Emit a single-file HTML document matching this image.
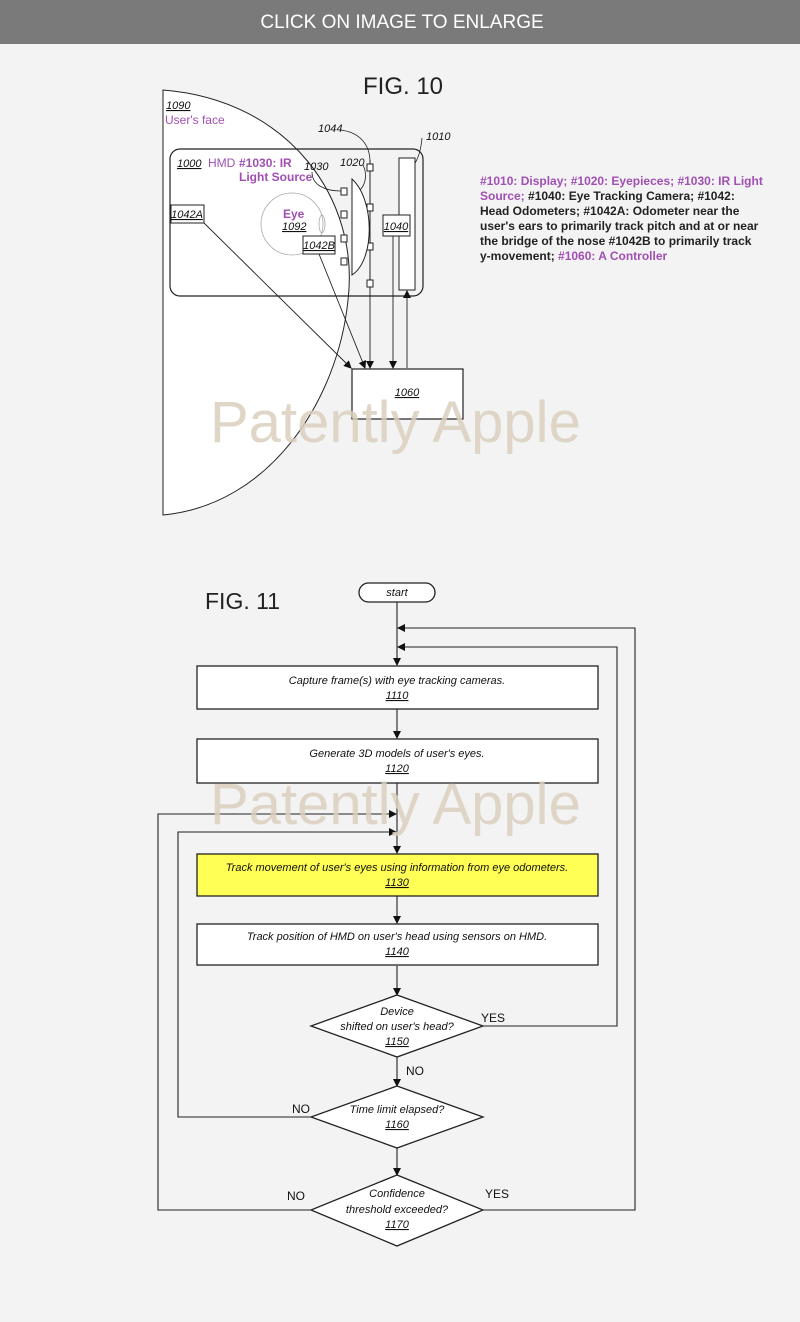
<!DOCTYPE html>
<html><head><meta charset="utf-8"><style>
html,body{margin:0;padding:0;background:#f3f3f3;}
svg{display:block;}
.it{font-family:"Liberation Sans",sans-serif;font-style:italic;font-size:11px;fill:#111;}
.lab{font-family:"Liberation Sans",sans-serif;font-size:12px;fill:#111;}
.pur{fill:#a14fb3;}
</style></head><body>
<svg width="800" height="1322" viewBox="0 0 800 1322" xmlns="http://www.w3.org/2000/svg">
<defs>
<marker id="a" markerWidth="8" markerHeight="8" refX="7" refY="4" orient="auto" markerUnits="userSpaceOnUse"><path d="M0,0 L8,4 L0,8 z" fill="#111"/></marker>
</defs>
<rect x="0" y="0" width="800" height="1322" fill="#f3f3f3"/>
<rect x="0" y="0" width="800" height="44" fill="#7a7a7a"/>
<text x="402" y="28" text-anchor="middle" font-family="Liberation Sans,sans-serif" font-size="19" fill="#fff">CLICK ON IMAGE TO ENLARGE</text>

<!-- FIG 10 -->
<text x="403" y="94" text-anchor="middle" font-family="Liberation Sans,sans-serif" font-size="24" fill="#222">FIG. 10</text>
<path d="M163,90 C290,100 360,200 348,300 C338,400 270,505 163,515 Z" fill="#fff" stroke="#222" stroke-width="1"/>
<text x="166" y="109" class="it" text-decoration="underline" font-size="10">1090</text>
<text x="165" y="124" font-family="Liberation Sans,sans-serif" font-size="12" class="pur">User's face</text>
<rect x="170" y="149" width="253" height="147" rx="10" fill="none" stroke="#222" stroke-width="1.2"/>
<text x="177" y="167" class="it" font-size="12" text-decoration="underline">1000</text>
<text x="208" y="167" font-family="Liberation Sans,sans-serif" font-size="12" class="pur">HMD</text>
<text x="239" y="167" font-family="Liberation Sans,sans-serif" font-size="12" font-weight="bold" class="pur">#1030: IR</text>
<text x="239" y="181" font-family="Liberation Sans,sans-serif" font-size="12" font-weight="bold" class="pur">Light Source</text>
<text x="304" y="170" class="it" font-size="10">1030</text>
<text x="340" y="166" class="it" font-size="10">1020</text>
<text x="318" y="132" class="it" font-size="10">1044</text>
<text x="426" y="140" class="it" font-size="10">1010</text>
<path d="M340,130 C360,132 370,145 370,162" fill="none" stroke="#222" stroke-width="0.8"/>
<path d="M422,138 C420,160 413,168 405,173" fill="none" stroke="#222" stroke-width="0.8"/>
<path d="M312,172 C312,185 325,191 341,191" fill="none" stroke="#222" stroke-width="0.8"/>
<path d="M363,165 C368,175 365,185 360,190" fill="none" stroke="#222" stroke-width="0.8"/>
<rect x="399" y="158" width="16" height="132" fill="#fff" stroke="#222"/>
<rect x="383" y="215" width="27" height="21" fill="#fff" stroke="#222"/>
<text x="396" y="230" text-anchor="middle" class="it" font-size="10" text-decoration="underline">1040</text>
<line x1="370" y1="160" x2="370" y2="290" stroke="#222"/>
<g fill="#fff" stroke="#222"><rect x="367" y="164" width="6" height="7"/><rect x="367" y="204" width="6" height="7"/><rect x="367" y="243" width="6" height="7"/><rect x="367" y="280" width="6" height="7"/>
<rect x="341" y="188" width="6" height="7"/><rect x="341" y="211" width="6" height="7"/><rect x="341" y="235" width="6" height="7"/><rect x="341" y="258" width="6" height="7"/></g>
<path d="M352,179 C375,200 375,260 352,275 Z" fill="#fff" stroke="#222"/>
<circle cx="292" cy="224" r="31" fill="none" stroke="#aaa" stroke-width="0.8"/>
<ellipse cx="322" cy="224" rx="3" ry="9" fill="none" stroke="#aaa" stroke-width="0.8"/>
<text x="283" y="218" font-family="Liberation Sans,sans-serif" font-size="12" font-weight="bold" class="pur">Eye</text>
<text x="282" y="230" class="it" font-size="10" text-decoration="underline">1092</text>
<rect x="171" y="205" width="33" height="18" fill="#fff" stroke="#222"/>
<text x="187" y="218" text-anchor="middle" class="it" font-size="9" text-decoration="underline">1042A</text>
<rect x="303" y="236" width="32" height="18" fill="#fff" stroke="#222"/>
<text x="319" y="249" text-anchor="middle" class="it" font-size="9" text-decoration="underline">1042B</text>
<g stroke="#222" stroke-width="0.9" fill="none" marker-end="url(#a)">
<line x1="204" y1="223" x2="351" y2="368"/>
<line x1="319" y1="254" x2="365" y2="368"/>
<line x1="370" y1="290" x2="370" y2="368"/>
<line x1="393" y1="236" x2="393" y2="368"/>
<line x1="407" y1="368" x2="407" y2="291"/>
</g>
<rect x="352" y="369" width="111" height="50" fill="#fff" stroke="#222" stroke-width="1.2"/>
<text x="407" y="396" text-anchor="middle" class="it" font-size="10" text-decoration="underline">1060</text>
<g font-family="Liberation Sans,sans-serif" font-size="12" font-weight="bold" fill="#222">
<text x="480" y="185"><tspan class="pur">#1010: Display; #1020: Eyepieces; #1030: IR Light</tspan></text>
<text x="480" y="200"><tspan class="pur">Source;</tspan> #1040: Eye Tracking Camera; #1042:</text>
<text x="480" y="215">Head Odometers; #1042A: Odometer near the</text>
<text x="480" y="230">user's ears to primarily track pitch and at or near</text>
<text x="480" y="245">the bridge of the nose #1042B to primarily track</text>
<text x="480" y="260">y-movement; <tspan class="pur">#1060: A Controller</tspan></text>
</g>
<text x="210" y="442" font-family="Liberation Sans,sans-serif" font-size="58" fill="#d9cfbd" fill-opacity="0.85">Patently Apple</text>

<!-- FIG 11 -->
<text x="205" y="609" font-family="Liberation Sans,sans-serif" font-size="23" fill="#222">FIG. 11</text>
<rect x="359" y="583" width="76" height="19" rx="9.5" fill="#fff" stroke="#222" stroke-width="1.3"/>
<text x="397" y="596" text-anchor="middle" class="it" font-size="10">start</text>
<g stroke="#222" stroke-width="1.1" fill="none">
<line x1="397" y1="602" x2="397" y2="665" marker-end="url(#a)"/>
<line x1="397" y1="709" x2="397" y2="738" marker-end="url(#a)"/>
<line x1="397" y1="783" x2="397" y2="853" marker-end="url(#a)"/>
<line x1="397" y1="896" x2="397" y2="923" marker-end="url(#a)"/>
<line x1="397" y1="966" x2="397" y2="995" marker-end="url(#a)"/>
<line x1="397" y1="1057" x2="397" y2="1086" marker-end="url(#a)"/>
<line x1="397" y1="1148" x2="397" y2="1175" marker-end="url(#a)"/>
<polyline points="483,1026 617,1026 617,647 398,647" marker-end="url(#a)"/>
<polyline points="483,1210 635,1210 635,628 398,628" marker-end="url(#a)"/>
<polyline points="311,1117 178,1117 178,832 396,832" marker-end="url(#a)"/>
<polyline points="311,1210 158,1210 158,814 396,814" marker-end="url(#a)"/>
</g>
<g stroke="#222" stroke-width="1.3">
<rect x="197" y="666" width="401" height="43" fill="#fff"/>
<rect x="197" y="739" width="401" height="44" fill="#fff"/>
<rect x="197" y="854" width="401" height="42" fill="#ffff55"/>
<rect x="197" y="924" width="401" height="41" fill="#fff"/>
<polygon points="397,995 483,1026 397,1057 311,1026" fill="#fff"/>
<polygon points="397,1086 483,1117 397,1148 311,1117" fill="#fff"/>
<polygon points="397,1175 483,1210 397,1246 311,1210" fill="#fff"/>
</g>
<g class="it" text-anchor="middle">
<text x="397" y="684">Capture frame(s) with eye tracking cameras.</text>
<text x="397" y="699" text-decoration="underline">1110</text>
<text x="397" y="757">Generate 3D models of user's eyes.</text>
<text x="397" y="772" text-decoration="underline">1120</text>
<text x="397" y="871">Track movement of user's eyes using information from eye odometers.</text>
<text x="397" y="886" text-decoration="underline">1130</text>
<text x="397" y="940">Track position of HMD on user's head using sensors on HMD.</text>
<text x="397" y="955" text-decoration="underline">1140</text>
<text x="397" y="1015">Device</text>
<text x="397" y="1030">shifted on user's head?</text>
<text x="397" y="1045" text-decoration="underline">1150</text>
<text x="397" y="1113">Time limit elapsed?</text>
<text x="397" y="1128" text-decoration="underline">1160</text>
<text x="397" y="1197">Confidence</text>
<text x="397" y="1213">threshold exceeded?</text>
<text x="397" y="1228" text-decoration="underline">1170</text>
</g>
<g class="lab">
<text x="481" y="1022">YES</text>
<text x="406" y="1075">NO</text>
<text x="292" y="1113">NO</text>
<text x="287" y="1200">NO</text>
<text x="485" y="1198">YES</text>
</g>
<text x="210" y="824" font-family="Liberation Sans,sans-serif" font-size="58" fill="#d9cfbd" fill-opacity="0.85">Patently Apple</text>
</svg>
</body></html>
